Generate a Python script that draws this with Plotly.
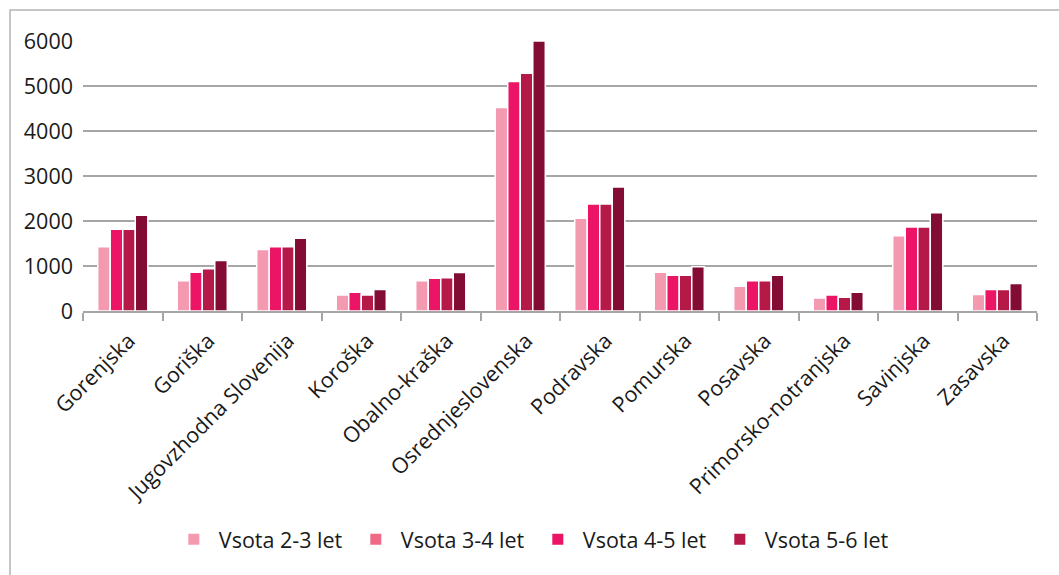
import plotly.graph_objects as go

# Regions (x categories)
regions = [
    "Gorenjska", "Goriška", "Jugovzhodna Slovenija", "Koroška", "Obalno-kraška",
    "Osrednjeslovenska", "Podravska", "Pomurska", "Posavska",
    "Primorsko-notranjska", "Savinjska", "Zasavska",
]

# Series values per region
vsota_2_3 = [1430, 675, 1365, 355, 675, 4520, 2060, 860, 550, 290, 1675, 365]
vsota_3_4 = [1815, 860, 1430, 415, 730, 5100, 2380, 795, 675, 355, 1865, 480]
vsota_4_5 = [1815, 940, 1430, 355, 740, 5285, 2380, 795, 675, 305, 1865, 480]
vsota_5_6 = [2130, 1120, 1615, 480, 855, 6000, 2755, 985, 795, 415, 2185, 610]

series_names = ["Vsota 2-3 let", "Vsota 3-4 let", "Vsota 4-5 let", "Vsota 5-6 let"]
series_values = [vsota_2_3, vsota_3_4, vsota_4_5, vsota_5_6]

y_ticks = [0, 1000, 2000, 3000, 4000, 5000, 6000]

bar_colors = ["#F49AB0", "#EC1464", "#B51948", "#820C34"]
legend_colors = ["#F49AB0", "#F06A88", "#EC1464", "#B51948"]

FONT = "Open Sans"
FSIZE = 21.5

fig = go.Figure()

for name, vals, col in zip(series_names, series_values, bar_colors):
    fig.add_trace(go.Bar(
        x=regions, y=vals, name=name,
        marker=dict(color=col, line=dict(color="white", width=1.5)),
        showlegend=False,
    ))

# Legend entries
for name, col in zip(series_names, legend_colors):
    fig.add_trace(go.Scatter(
        x=[None], y=[None], mode="markers", name=name,
        marker=dict(symbol="square", size=11, color=col),
    ))

fig.update_layout(
    width=1059, height=575,
    margin=dict(l=83, r=22, t=41, b=264),
    paper_bgcolor="white", plot_bgcolor="white",
    font=dict(family=FONT, size=FSIZE, color="#1a1a1a"),
    barmode="group", bargap=0.37, bargroupgap=0,
    legend=dict(
        orientation="h", x=0.4715, xanchor="center", y=-0.845, yanchor="middle",
        font=dict(family=FONT, size=FSIZE, color="#1a1a1a"),
        itemwidth=40,
        entrywidth=127, entrywidthmode="pixels",
        bgcolor="rgba(0,0,0,0)",
    ),
    shapes=[dict(
        type="rect", xref="paper", yref="paper",
        x0=-0.0765, x1=1.2, y0=-1.2, y1=1.1148,
        line=dict(color="#b4b4b4", width=1.5), fillcolor="rgba(0,0,0,0)",
        layer="below",
    )],
)

fig.update_xaxes(
    type="category", tickangle=-45,
    showline=True, linecolor="#a6a6a6", linewidth=1.5,
    ticks="outside", tickson="boundaries", ticklen=8, tickcolor="#a6a6a6", tickwidth=1.5,
    showgrid=False,
    ticklabelshift=6, ticklabelstandoff=7,
    tickfont=dict(family=FONT, size=FSIZE, color="#1a1a1a"),
)
fig.update_yaxes(
    range=[0, 6000], tickvals=y_ticks,
    showgrid=True, gridcolor="#a6a6a6", gridwidth=1.5,
    zeroline=False, showline=False, ticks="",
    ticklabelstandoff=9,
    tickfont=dict(family=FONT, size=FSIZE, color="#1a1a1a"),
)

fig.write_html("out.html")
